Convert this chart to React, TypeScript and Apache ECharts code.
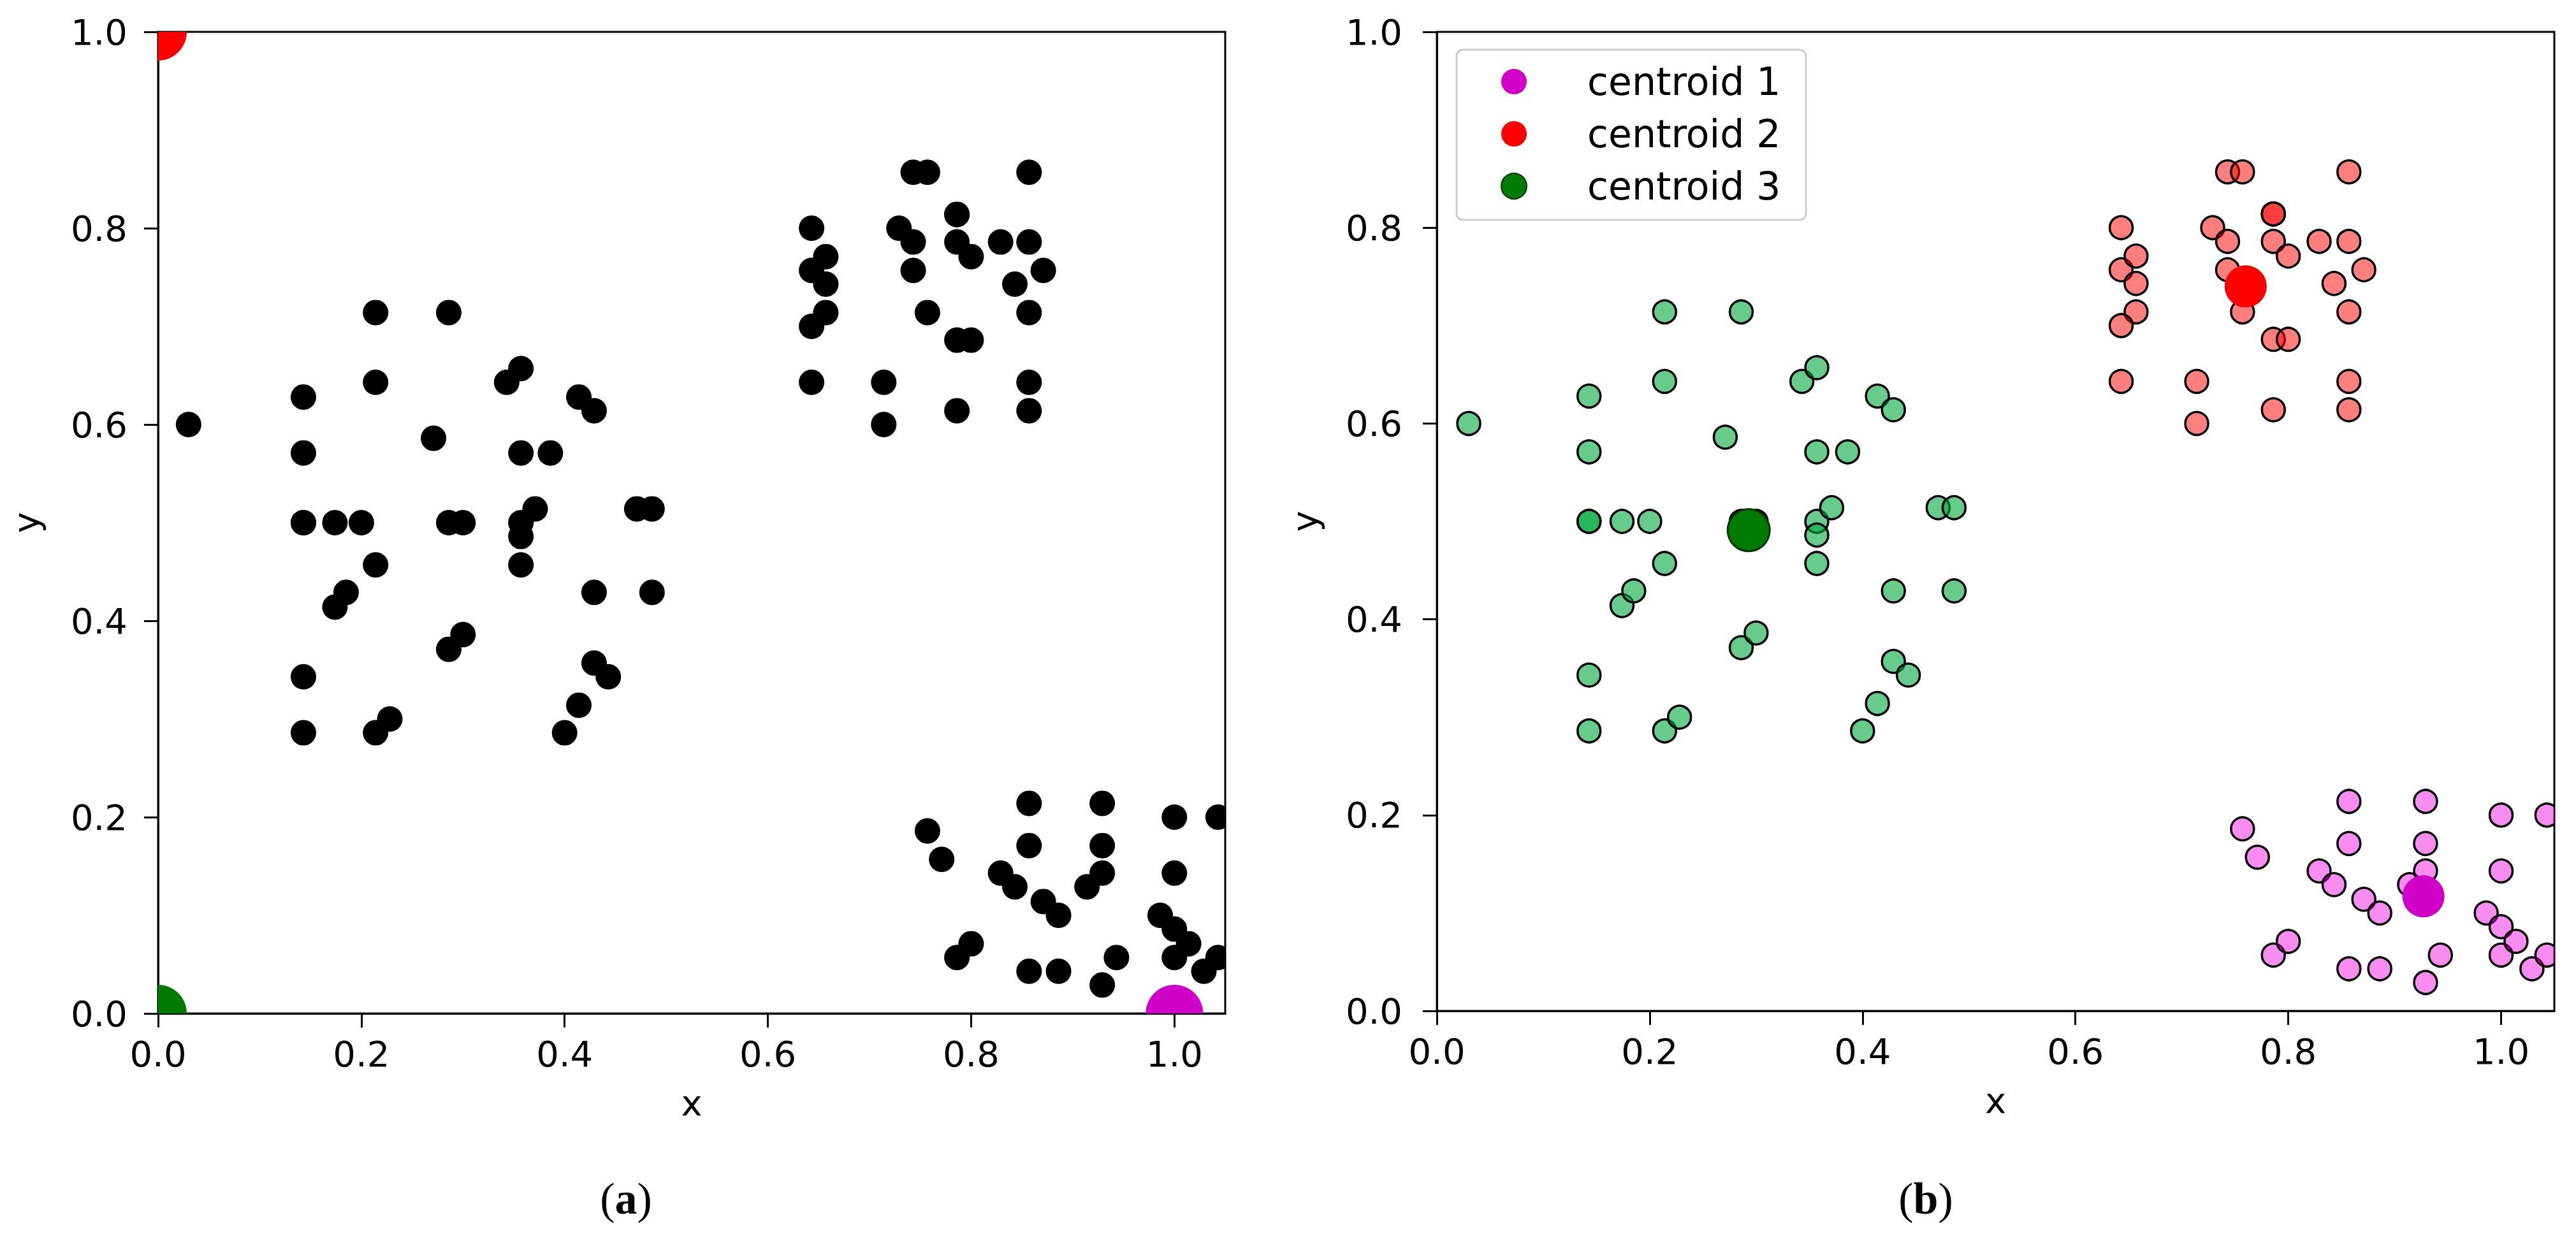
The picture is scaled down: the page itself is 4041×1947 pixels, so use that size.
import React, { useEffect, useRef } from "react";
import * as echarts from "echarts";

// ---------- data ----------
const tickValues = [0, 0.2, 0.4, 0.6, 0.8, 1.0];
const xAxisTitle = "x";
const yAxisTitle = "y";
const panelLetters = ["a", "b"];
const legendNames = ["centroid 1", "centroid 2", "centroid 3"];

// cluster 1 (bottom right, magenta)
const c1X = [0.757, 0.771, 0.786, 0.8, 0.829, 0.843, 0.857, 0.857, 0.857, 0.871, 0.886, 0.886, 0.914, 0.929, 0.929, 0.929, 0.929, 0.943, 0.986, 1.0, 1.0, 1.0, 1.0, 1.014, 1.029, 1.043, 1.043];
const c1Y = [0.186, 0.157, 0.057, 0.071, 0.143, 0.129, 0.214, 0.171, 0.043, 0.114, 0.1, 0.043, 0.129, 0.143, 0.214, 0.171, 0.029, 0.057, 0.1, 0.2, 0.143, 0.086, 0.057, 0.071, 0.043, 0.2, 0.057];

// cluster 2 (top right, red)
const c2X = [0.643, 0.643, 0.657, 0.657, 0.657, 0.643, 0.643, 0.714, 0.714, 0.729, 0.743, 0.743, 0.743, 0.757, 0.757, 0.786, 0.786, 0.786, 0.8, 0.786, 0.8, 0.786, 0.829, 0.843, 0.857, 0.857, 0.871, 0.857, 0.857, 0.857];
const c2Y = [0.8, 0.757, 0.771, 0.743, 0.714, 0.7, 0.643, 0.643, 0.6, 0.8, 0.786, 0.757, 0.857, 0.857, 0.714, 0.814, 0.814, 0.786, 0.771, 0.686, 0.686, 0.614, 0.786, 0.743, 0.857, 0.786, 0.757, 0.714, 0.643, 0.614];

// cluster 3 (left, green)
const c3X = [0.03, 0.143, 0.143, 0.143, 0.143, 0.143, 0.143, 0.174, 0.2, 0.214, 0.214, 0.214, 0.174, 0.185, 0.214, 0.228, 0.286, 0.271, 0.286, 0.3, 0.286, 0.3, 0.343, 0.357, 0.357, 0.386, 0.357, 0.357, 0.371, 0.357, 0.414, 0.429, 0.429, 0.429, 0.443, 0.414, 0.4, 0.471, 0.486, 0.486];
const c3Y = [0.6, 0.628, 0.571, 0.5, 0.5, 0.343, 0.286, 0.5, 0.5, 0.714, 0.643, 0.457, 0.414, 0.429, 0.286, 0.3, 0.714, 0.586, 0.5, 0.5, 0.371, 0.386, 0.643, 0.657, 0.571, 0.571, 0.5, 0.486, 0.514, 0.457, 0.628, 0.614, 0.429, 0.357, 0.343, 0.314, 0.286, 0.514, 0.514, 0.429];

// initial centroids (panel a) and final centroids (panel b)
const initCentroidX = [1.0, 0.0, 0.0];
const initCentroidY = [0.0, 1.0, 0.0];
const finalCentroidX = [0.927, 0.76, 0.293];
const finalCentroidY = [0.117, 0.74, 0.491];

// ---------- styles ----------
const FONT = "DejaVu Sans";
const centroidColors = ["#d000c8", "#ff0000", "#007a00"];
const pointFills = ["rgba(240,0,225,0.45)", "rgba(255,0,0,0.5)", "rgba(0,168,62,0.6)"];

function dotSeries(name: string, xs: number[], ys: number[], grid: number, r: number, fill: string, stroke: string | null, lw: number) {
  return {
    type: "custom",
    name,
    xAxisIndex: grid,
    yAxisIndex: grid,
    clip: true,
    silent: true,
    data: xs.map((x, i) => [x, ys[i]]),
    encode: { x: 0, y: 1 },
    renderItem: (params: any, api: any) => {
      const p = api.coord([api.value(0), api.value(1)]);
      return {
        type: "circle",
        shape: { cx: p[0], cy: p[1], r },
        style: { fill, stroke: stroke || undefined, lineWidth: lw },
      };
    },
  };
}

function makeXAxis(grid: number) {
  return {
    type: "value",
    gridIndex: grid,
    min: 0,
    max: 1.05,
    name: xAxisTitle,
    nameLocation: "middle",
    nameGap: 112,
    nameTextStyle: { fontFamily: FONT, fontSize: 56, color: "#000" },
    axisLine: { show: true, onZero: false, lineStyle: { color: "#000", width: 3 } },
    axisTick: { show: true, length: 22, lineStyle: { color: "#000", width: 3 }, customValues: tickValues },
    axisLabel: { customValues: tickValues, formatter: (v: number) => v.toFixed(1), margin: 35, fontFamily: FONT, fontSize: 56, color: "#000" },
    splitLine: { show: false },
  };
}

function makeYAxis(grid: number, labelMargin: number) {
  return {
    type: "value",
    gridIndex: grid,
    min: 0,
    max: 1,
    name: yAxisTitle,
    nameLocation: "middle",
    nameGap: 180,
    nameRotate: 90,
    nameTextStyle: { fontFamily: FONT, fontSize: 56, color: "#000" },
    axisLine: { show: true, onZero: false, lineStyle: { color: "#000", width: 3 } },
    axisTick: { show: true, length: 22, lineStyle: { color: "#000", width: 3 }, customValues: tickValues },
    axisLabel: { customValues: tickValues, formatter: (v: number) => v.toFixed(1), margin: labelMargin, fontFamily: FONT, fontSize: 56, color: "#000" },
    splitLine: { show: false },
  };
}

export default function App() {
  const ref = useRef<HTMLDivElement>(null);
  useEffect(() => {
    if (!ref.current) return;
    const chart = echarts.init(ref.current, null, { renderer: "svg" });
    const clustersX = [c1X, c2X, c3X];
    const clustersY = [c1Y, c2Y, c3Y];

    const series: any[] = [];
    // panel (a): all points black
    clustersX.forEach((xs, i) => series.push(dotSeries("a-points-" + i, xs, clustersY[i], 0, 20, "#000", null, 0)));
    initCentroidX.forEach((x, i) =>
      series.push(dotSeries("a-centroid-" + i, [x], [initCentroidY[i]], 0, 45, centroidColors[i], null, 0))
    );
    // panel (b): coloured points
    clustersX.forEach((xs, i) => series.push(dotSeries("b-points-" + i, xs, clustersY[i], 1, 18, pointFills[i], "#000", 3.5)));
    legendNames.forEach((name, i) =>
      series.push({
        type: "scatter",
        name,
        xAxisIndex: 1,
        yAxisIndex: 1,
        symbol: "circle",
        symbolSize: 66,
        z: 3,
        silent: true,
        itemStyle: {
          color: centroidColors[i],
          borderColor: i === 2 ? "#003300" : centroidColors[i],
          borderWidth: i === 2 ? 3 : 0,
          opacity: 1,
        },
        data: [[finalCentroidX[i], finalCentroidY[i]]],
      })
    );

    chart.setOption({
      animation: false,
      backgroundColor: "#ffffff",
      grid: [
        { left: 248, right: 4041 - 1922, top: 50, bottom: 1947 - 1590, show: true, borderColor: "#000", borderWidth: 3, backgroundColor: "transparent" },
        { left: 2254, right: 4041 - 4007, top: 50, bottom: 1947 - 1586, show: true, borderColor: "#000", borderWidth: 3, backgroundColor: "transparent" },
      ],
      xAxis: [makeXAxis(0), makeXAxis(1)],
      yAxis: [makeYAxis(0, 48), makeYAxis(1, 54)],
      legend: {
        data: legendNames.map((n) => ({ name: n, icon: "circle" })),
        orient: "vertical",
        left: 2349,
        top: 93,
        itemWidth: 220,
        itemHeight: 40,
        itemGap: 22,
        selectedMode: false,
        z: 6,
        textStyle: { fontFamily: FONT, fontSize: 60, color: "#000" },
      },
      graphic: [
        {
          type: "rect",
          z: 4,
          shape: { x: 2285, y: 78, width: 548, height: 267, r: 10 },
          style: { fill: "rgba(255,255,255,0.85)", stroke: "#cccccc", lineWidth: 3 },
        },
        ...panelLetters.map((letter, i) => ({
          type: "text",
          x: i === 0 ? 982 : 3021,
          y: 1880,
          style: {
            text: "{p|(}{b|" + letter + "}{p|)}",
            rich: {
              p: { fontFamily: "Liberation Serif", fontSize: 70, fill: "#000" },
              b: { fontFamily: "Liberation Serif", fontSize: 70, fontWeight: "bold", fill: "#000" },
            },
            align: "center",
            verticalAlign: "middle",
            fill: "#000",
          },
        })),
      ],
      series,
    });
    return () => chart.dispose();
  }, []);
  return <div ref={ref} style={{ position: "absolute", left: 0, top: 0, width: 4041, height: 1947 }} />;
}
